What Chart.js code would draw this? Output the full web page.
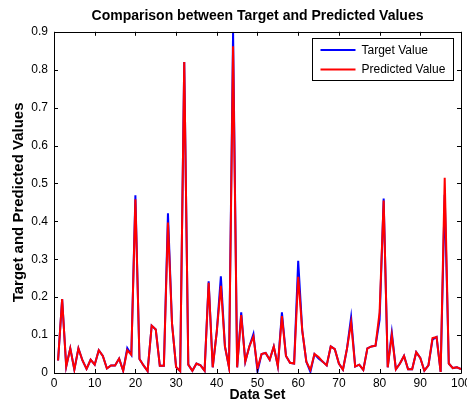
<!DOCTYPE html>
<html>
<head>
<meta charset="utf-8">
<script src="https://cdn.jsdelivr.net/npm/chart.js@4.4.0/dist/chart.umd.min.js"></script>
<style>
  html, body { margin: 0; padding: 0; background: #fff; overflow: hidden; }
  #wrap { width: 467px; height: 407px; overflow: hidden; }
</style>
</head>
<body>
<div id="wrap"><canvas id="myChart" width="474" height="407"></canvas></div>
<script>
// data set index 1..100
const dataSet = [];
for (let i = 1; i <= 100; i++) dataSet.push(i);

const targetValues = [
  0.033, 0.195, 0.017, 0.065, 0.009, 0.065, 0.033, 0.011, 0.035, 0.022,
  0.060, 0.045, 0.012, 0.020, 0.020, 0.038, 0.006, 0.066, 0.048, 0.469,
  0.037, 0.020, 0.005, 0.125, 0.115, 0.019, 0.019, 0.421, 0.130, 0.016,
  0.005, 0.820, 0.022, 0.006, 0.025, 0.020, 0.006, 0.242, 0.015, 0.110,
  0.255, 0.070, 0.015, 0.900, 0.015, 0.160, 0.030, 0.070, 0.103, 0.004,
  0.050, 0.053, 0.035, 0.070, 0.018, 0.160, 0.045, 0.027, 0.025, 0.296,
  0.112, 0.030, 0.003, 0.050, 0.038, 0.030, 0.020, 0.070, 0.063, 0.025,
  0.009, 0.065, 0.147, 0.017, 0.022, 0.008, 0.065, 0.070, 0.072, 0.140,
  0.460, 0.015, 0.107, 0.010, 0.025, 0.045, 0.010, 0.010, 0.055, 0.040,
  0.006, 0.020, 0.088, 0.095, 0.003, 0.470, 0.025, 0.013, 0.015, 0.010
];

const predictedValues = [
  0.033, 0.195, 0.017, 0.065, 0.009, 0.065, 0.033, 0.011, 0.035, 0.022,
  0.060, 0.045, 0.012, 0.020, 0.020, 0.038, 0.006, 0.060, 0.048, 0.458,
  0.037, 0.020, 0.005, 0.125, 0.115, 0.019, 0.019, 0.397, 0.130, 0.016,
  0.005, 0.820, 0.022, 0.006, 0.025, 0.020, 0.006, 0.238, 0.015, 0.110,
  0.230, 0.070, 0.015, 0.862, 0.015, 0.153, 0.030, 0.070, 0.096, 0.012,
  0.050, 0.053, 0.035, 0.070, 0.018, 0.150, 0.045, 0.027, 0.025, 0.254,
  0.112, 0.030, 0.008, 0.050, 0.042, 0.030, 0.020, 0.070, 0.063, 0.025,
  0.009, 0.065, 0.133, 0.017, 0.022, 0.008, 0.065, 0.070, 0.072, 0.160,
  0.455, 0.015, 0.100, 0.010, 0.025, 0.045, 0.010, 0.010, 0.055, 0.040,
  0.006, 0.020, 0.092, 0.095, 0.003, 0.515, 0.025, 0.013, 0.015, 0.010
];

const xTicks = [0, 10, 20, 30, 40, 50, 60, 70, 80, 90, 100];
const yTicks = [0, 0.1, 0.2, 0.3, 0.4, 0.5, 0.6, 0.7, 0.8, 0.9];

const FONT = '"Liberation Sans", Arial, Helvetica, sans-serif';

// matlab style box with inward ticks + legend inside the axes
const matlabBox = {
  id: 'matlabBox',
  afterDatasetsDraw(chart) {
    const ctx = chart.ctx;
    const a = chart.chartArea;
    const xs = chart.scales.x, ys = chart.scales.y;
    ctx.save();
    ctx.strokeStyle = '#000';
    ctx.lineWidth = 1;
    ctx.beginPath();
    ctx.rect(Math.round(a.left) + 0.5, Math.round(a.top) + 0.5,
             Math.round(a.right - a.left), Math.round(a.bottom - a.top));
    ctx.stroke();
    const len = 4;
    ctx.beginPath();
    xTicks.forEach(v => {
      const px = Math.round(xs.getPixelForValue(v)) + 0.5;
      ctx.moveTo(px, a.bottom); ctx.lineTo(px, a.bottom - len);
      ctx.moveTo(px, a.top); ctx.lineTo(px, a.top + len);
    });
    yTicks.forEach(v => {
      const py = Math.round(ys.getPixelForValue(v)) + 0.5;
      ctx.moveTo(a.left, py); ctx.lineTo(a.left + len, py);
      ctx.moveTo(a.right, py); ctx.lineTo(a.right - len, py);
    });
    ctx.stroke();

    // legend
    const bw = 141, bh = 42;
    const bx = Math.round(a.right - 8 - bw) + 0.5;
    const by = Math.round(a.top + 6) + 0.5;
    ctx.fillStyle = '#fff';
    ctx.fillRect(bx, by, bw, bh);
    ctx.strokeRect(bx, by, bw, bh);
    ctx.font = '12px ' + FONT;
    ctx.textBaseline = 'middle';
    chart.data.datasets.forEach((ds, i) => {
      const ly = by + 11.5 + i * 19.5;
      ctx.strokeStyle = ds.borderColor;
      ctx.lineWidth = 2;
      ctx.beginPath();
      ctx.moveTo(bx + 8, ly); ctx.lineTo(bx + 43, ly);
      ctx.stroke();
      ctx.fillStyle = '#000';
      ctx.fillText(ds.label, bx + 49, ly + 0.5);
    });
    ctx.restore();
  }
};

const ctx = document.getElementById('myChart');
new Chart(ctx, {
  type: 'line',
  data: {
    datasets: [{
      label: 'Target Value',
      data: dataSet.map((x, i) => ({ x: x, y: targetValues[i] })),
      borderColor: 'rgb(0, 0, 255)',
      borderWidth: 2,
      pointRadius: 0,
      tension: 0,
      order: 2
    }, {
      label: 'Predicted Value',
      data: dataSet.map((x, i) => ({ x: x, y: predictedValues[i] })),
      borderColor: 'rgb(255, 0, 0)',
      borderWidth: 2,
      pointRadius: 0,
      tension: 0,
      order: 1
    }]
  },
  options: {
    responsive: false,
    animation: false,
    devicePixelRatio: 1,
    layout: {
      autoPadding: false,
      padding: { left: 0, right: 0, top: 0, bottom: 0 }
    },
    plugins: {
      legend: { display: false },
      tooltip: { enabled: false },
      title: {
        display: true,
        fullSize: false,
        text: 'Comparison between Target and Predicted Values',
        color: '#000',
        font: { family: FONT, size: 14, weight: 'bold' },
        padding: { top: 8, bottom: 7 }
      }
    },
    scales: {
      x: {
        type: 'linear',
        min: 0,
        max: 100,
        afterFit(scale) { scale.height = 34; },
        afterBuildTicks(scale) { scale.ticks = xTicks.map(v => ({ value: v })); },
        grid: { display: false, drawTicks: false },
        border: { display: false },
        ticks: {
          color: '#000',
          padding: 3,
          maxRotation: 0,
          font: { family: FONT, size: 12 }
        },
        title: {
          display: true,
          text: 'Data Set',
          color: '#000',
          font: { family: FONT, size: 14, weight: 'bold' },
          padding: { top: 0, bottom: 3 }
        }
      },
      y: {
        min: 0,
        max: 0.9,
        afterFit(scale) { scale.width = 54; },
        afterBuildTicks(scale) { scale.ticks = yTicks.map(v => ({ value: v })); },
        grid: { display: false, drawTicks: false },
        border: { display: false },
        ticks: {
          color: '#000',
          padding: 6,
          font: { family: FONT, size: 12 },
          callback: v => (v === 0 ? '0' : v.toFixed(1))
        },
        title: {
          display: true,
          text: 'Target and Predicted Values',
          color: '#000',
          font: { family: FONT, size: 15, weight: 'bold' },
          padding: { top: 10, bottom: 0 }
        }
      }
    }
  },
  plugins: [matlabBox]
});
</script>
</body>
</html>
